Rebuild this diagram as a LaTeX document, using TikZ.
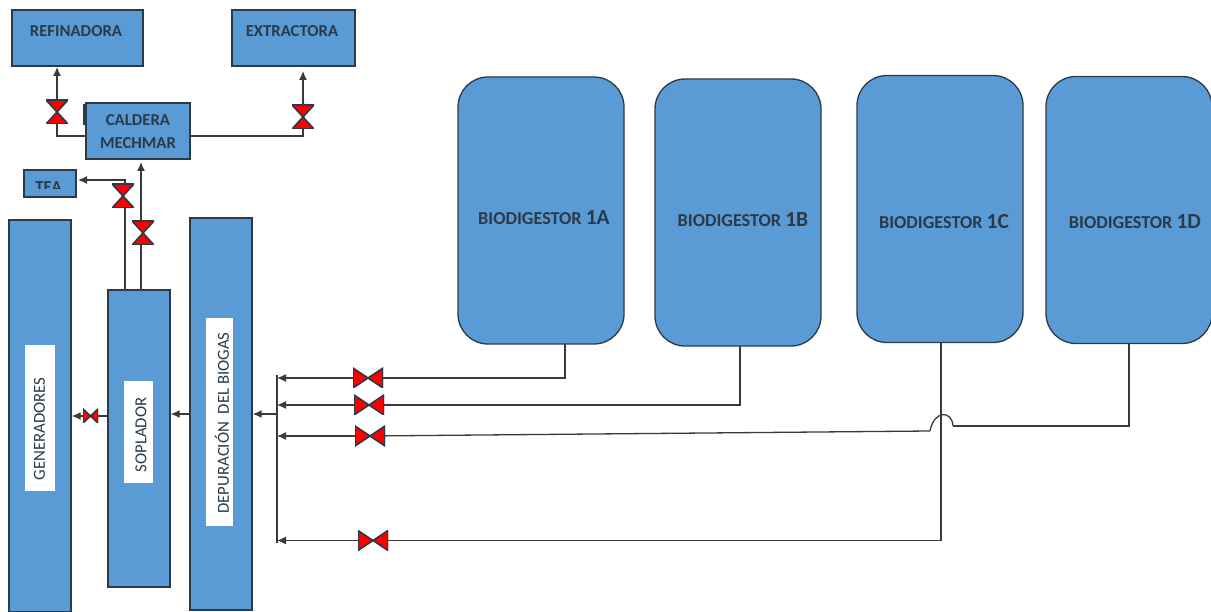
\documentclass[tikz,border=0pt]{standalone}
\usepackage{fontspec}
\setmainfont{Carlito}
\usetikzlibrary{arrows.meta}
\definecolor{unitblue}{HTML}{5B9BD5}
\definecolor{unitline}{HTML}{2B3A48}
\definecolor{valvered}{HTML}{FF0000}
\definecolor{pipegray}{HTML}{3A3A3A}
\tikzset{
    unit/.style={draw=unitline,fill=unitblue,line width=1.3pt,inner sep=0pt},
    digester/.style={unit,rounded corners=30pt,minimum width=166pt,minimum height=267pt},
    whitetag/.style={fill=white,inner sep=0pt},
    unittext/.style={font=\fontsize{16.7}{23}\selectfont\bfseries,text=unitline,align=center,inner sep=0pt},
    sidetext/.style={font=\fontsize{16.8}{20}\selectfont,text=unitline,rotate=90,inner sep=0pt},
    pipe/.style={draw=pipegray,line width=1.3pt},
    flow/.style={pipe,-{Latex[length=9pt,width=8pt]}},
    valveh/.style={minimum width=#1,minimum height=20pt,inner sep=0pt,path picture={
        \filldraw[draw=unitline,fill=valvered,line width=1.6pt]
            (path picture bounding box.north west) -- (path picture bounding box.south east)
            -- (path picture bounding box.north east) -- (path picture bounding box.south west) -- cycle;}},
    valvev/.style={minimum width=22pt,minimum height=24pt,inner sep=0pt,path picture={
        \filldraw[draw=unitline,fill=valvered,line width=1.6pt]
            (path picture bounding box.north west) -- (path picture bounding box.south east)
            -- (path picture bounding box.south west) -- (path picture bounding box.north east) -- cycle;}}
}
\begin{document}
\begin{tikzpicture}[x=1pt,y=-1pt]
\useasboundingbox (0,0) rectangle (1211,612);

% Draw the boxes at the top
\draw[line width=1.6pt,draw=unitline] (84,104) -- (84,125);
\node[unit,minimum width=131pt,minimum height=56pt] (refinadora) at (77.5,38) {};
\node[unit,minimum width=123pt,minimum height=56pt] (extractora) at (293.5,38) {};
\node[unit,minimum width=104pt,minimum height=56pt] (caldera) at (138,131) {};
\node[unit,minimum width=52pt,minimum height=27pt] (tea) at (50,183.5) {};
\node[unittext] (refinadoratext) at (76,31) {REFINADORA};
\node[unittext] (extractoratext) at (292,31) {EXTRACTORA};
\node[unittext] (calderatext) at (138,131.5) {CALDERA\\MECHMAR};
\begin{scope}
    \clip (24,170) rectangle (76,188.5);
    \node[unittext] (teatext) at (48.5,187.5) {TEA};
\end{scope}

% Draw the tall columns
\node[unit,minimum width=62pt,minimum height=392pt] (generadores) at (40,416) {};
\node[unit,minimum width=62pt,minimum height=297pt] (soplador) at (139,438.5) {};
\node[unit,minimum width=62pt,minimum height=392pt] (depuracion) at (221,414) {};
\node[whitetag,minimum width=30pt,minimum height=146pt] (generadorestag) at (40,418) {};
\node[whitetag,minimum width=29pt,minimum height=102pt] (sopladortag) at (138.5,432) {};
\node[whitetag,minimum width=27pt,minimum height=208pt] (depuraciontag) at (219.5,422) {};
\node[sidetext] (generadorestext) at (39.5,429) {GENERADORES};
\node[sidetext] (sopladortext) at (141,435) {SOPLADOR};
\node[sidetext] (depuraciontext) at (222,423) {DEPURACIÓN\ \ DEL BIOGAS};

% Draw the biodigesters
\node[digester] (bio1a) at (541,210.5) {};
\node[digester] (bio1b) at (738,212.5) {};
\node[digester] (bio1c) at (940,209) {};
\node[digester] (bio1d) at (1129,210) {};
\foreach \nm/\x/\y in {1A/544/218,1B/743/220,1C/944/222,1D/1135/222} {
    \node[unittext,font=\fontsize{18.2}{20}\selectfont\bfseries] (text\nm) at (\x,\y) {BIODIGESTOR {\fontsize{21.5}{20}\selectfont \nm}};
}

% Draw the valves
\node[valvev] (vrefinadora) at (57,112) {};
\node[valvev] (vextractora) at (303,117) {};
\node[valvev] (vtea) at (123,196) {};
\node[valvev] (vcaldera) at (143,233) {};
\node[valveh=15pt,minimum height=14pt] (vgeneradores) at (90.5,416) {};
\node[valveh=30pt] (v1a) at (368,378) {};
\node[valveh=30pt] (v1b) at (369,405) {};
\node[valveh=30pt] (v1c) at (370,436) {};
\node[valveh=30pt] (v1d) at (373,540.5) {};

% Draw the free ends of the pipes
\coordinate (manifoldtop) at (277,375);
\coordinate (manifoldbot) at (277,543);
\coordinate (manifoldout) at (277,414);
\coordinate (hopright) at (953,426);
\coordinate (hopleft) at (930,431);
\coordinate (sout1a) at (565,344);
\coordinate (sout1b) at (740,346);
\coordinate (sout1c) at (941,342);
\coordinate (sout1d) at (1129,344);
\coordinate (teaup) at (125,180);
\coordinate (sopltea) at (125,290);
\coordinate (soplcal) at (141,290);
\coordinate (calin) at (141,162);
\coordinate (vcalbot) at (141,245);
\coordinate (vcaltop) at (141,221);

% Draw the pipes at the top
\draw[pipe] (caldera.west |- 0,136) -| (vrefinadora.south);
\draw[flow] (vrefinadora.north) -- (57,67);
\draw[pipe] (caldera.east |- 0,136) -| (vextractora.south);
\draw[flow] (vextractora.north) -- (303,71);
\draw[pipe] (sopltea) -- (125,207);
\draw[flow] (125,185) -- (teaup) -- (78,180);
\draw[pipe] (soplcal) -- (vcalbot);
\draw[flow] (vcaltop) -- (calin);

% Draw the arrows between the columns
\draw[pipe] (soplador.west |- 0,416) -- (vgeneradores);
\draw[flow] (vgeneradores) -- (generadores.east |- 0,416);
\draw[flow] (depuracion.west |- 0,414) -- (soplador.east |- 0,414);
\draw[flow] (manifoldout) -- (depuracion.east |- 0,414);

% Draw the pipes from the biodigesters
\draw[pipe] (manifoldtop) -- (manifoldbot);
\draw[pipe] (sout1a) |- (v1a);
\draw[flow] (v1a) -- (manifoldout |- v1a);
\draw[pipe] (sout1b) |- (v1b);
\draw[flow] (v1b) -- (manifoldout |- v1b);
\draw[pipe] (sout1c) |- (v1d);
\draw[flow] (v1d) -- (manifoldout |- v1d);
\draw[pipe] (sout1d) |- (hopright);
\draw[pipe] (hopright) .. controls (952,410) and (934,410) .. (hopleft);
\draw[pipe] (hopleft) -- (v1c);
\draw[flow] (v1c) -- (manifoldout |- v1c);

\end{tikzpicture}
\end{document}
